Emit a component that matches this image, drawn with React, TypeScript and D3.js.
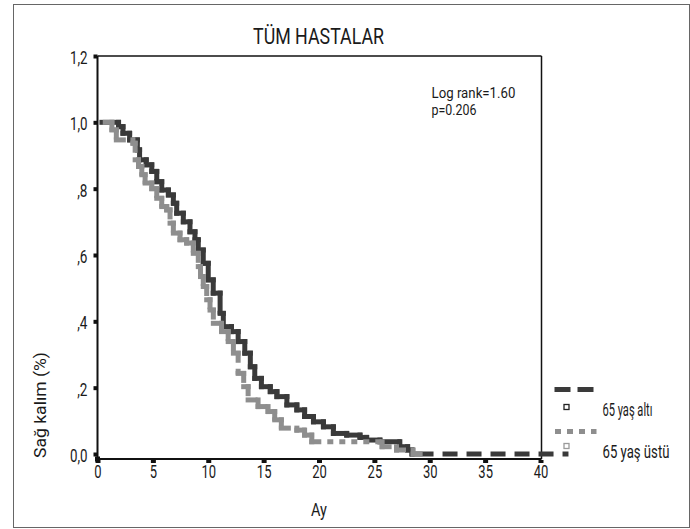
import React, { useEffect, useRef } from "react";
import * as d3 from "d3";

// Kaplan-Meier readings (months, survival)
const monthsUnder65 = [0.4, 1.9, 2.3, 2.9, 3.6, 3.8, 4.4, 4.9, 5.35, 5.8, 6.4, 6.85, 7.15, 7.75, 8.35, 8.8, 9.1, 9.55, 10.0, 10.45, 11.07, 11.36, 12.1, 12.7, 13.3, 13.8, 14.2, 14.8, 15.6, 16.2, 17.1, 18.0, 18.7, 19.5, 20.4, 21.3, 22.5, 23.7, 24.3, 25.5, 27.3, 28.0, 28.4];
const survivalUnder65 = [1.0, 0.987, 0.967, 0.947, 0.917, 0.887, 0.872, 0.852, 0.821, 0.796, 0.781, 0.756, 0.726, 0.7, 0.67, 0.646, 0.615, 0.575, 0.525, 0.485, 0.424, 0.384, 0.369, 0.339, 0.304, 0.263, 0.228, 0.203, 0.188, 0.173, 0.148, 0.133, 0.113, 0.097, 0.082, 0.062, 0.057, 0.05, 0.042, 0.037, 0.022, 0.012, 0];
const lastMonthUnder65 = 42.3;

const monthsOver65 = [0.7, 1.3, 1.7, 3.2, 3.4, 3.7, 4.0, 4.3, 4.9, 5.35, 5.8, 6.25, 6.55, 6.85, 7.45, 8.05, 8.65, 9.1, 9.3, 9.55, 9.86, 10.16, 10.46, 11.2, 11.8, 12.27, 12.7, 13.2, 13.6, 14.5, 15.4, 16.0, 16.6, 18.0, 18.7, 19.35, 25.7, 27.0, 28.5];
const survivalOver65 = [1.0, 0.977, 0.947, 0.937, 0.887, 0.867, 0.842, 0.817, 0.8, 0.771, 0.746, 0.736, 0.696, 0.666, 0.646, 0.636, 0.605, 0.565, 0.535, 0.505, 0.465, 0.434, 0.394, 0.369, 0.339, 0.304, 0.243, 0.203, 0.163, 0.143, 0.128, 0.103, 0.078, 0.072, 0.057, 0.037, 0.022, 0.012, 0];
const lastMonthOver65 = 29.3;

const xTicks = [0, 5, 10, 15, 20, 25, 30, 35, 40];
const yTicks = [0, 0.2, 0.4, 0.6, 0.8, 1.0, 1.2];
const yTickLabels = ["0,0", ",2", ",4", ",6", ",8", "1,0", "1,2"];

const seriesNames = ["65 yaş altı", "65 yaş üstü"];
const FONT = "Roboto, 'Liberation Sans', sans-serif";

// dash patterns (square caps add 5px to every dash): a longer first dash,
// then the repeating pattern, restarted on every step piece like SPSS does
const longDash = [19, 14].concat(...Array(12).fill([10, 14]));
const dotted = [7, 11].concat(...Array(24).fill([1, 11]));

// each step piece is its own segment
function stepSegments(months, surv, lastMonth) {
  const segs = [];
  for (let i = 1; i < months.length; i++) {
    segs.push([months[i - 1], surv[i - 1], months[i], surv[i - 1]]);
    segs.push([months[i], surv[i - 1], months[i], surv[i]]);
  }
  const n = months.length - 1;
  segs.push([months[n], surv[n], lastMonth, surv[n]]);
  return segs;
}

// rough width of a condensed label
const labelWidth = (s) =>
  s.split("").reduce((w, c) => w + (c === "," || c === "." ? 3 : 7.3), 0);

// squeeze a text horizontally to the target width (condensed look)
function squeeze(node, target, extra = "") {
  const t = d3.select(node);
  const nat = node.getComputedTextLength();
  const k = nat > 0 ? target / nat : 1;
  const tx = +t.attr("x") || 0;
  const ty = +t.attr("y") || 0;
  t.attr("x", 0).attr("y", 0)
    .attr("transform", `translate(${tx},${ty}) ${extra} scale(${k},1)`);
}

const App = () => {
  const svgRef = useRef();

  useEffect(() => {
    const width = 690;
    const height = 529;

    const svg = d3.select(svgRef.current).attr("width", width).attr("height", height);
    svg.selectAll("*").remove();

    const x = d3.scaleLinear().domain([0, 40]).range([97.5, 540.5]);
    const y = d3.scaleLinear().domain([0, 1.2]).range([454, 56]);
    const axisY = 459;

    // outer frame
    svg.append("rect")
      .attr("x", 13.5).attr("y", 4.5)
      .attr("width", 676).attr("height", 523)
      .attr("fill", "white").attr("stroke", "#666").attr("stroke-width", 1);

    // plot frame
    svg.append("line")
      .attr("x1", x(0)).attr("x2", 541.5).attr("y1", y(1.2)).attr("y2", y(1.2))
      .attr("stroke", "#111").attr("stroke-width", 1.5);
    svg.append("line")
      .attr("x1", 541.5).attr("x2", 541.5).attr("y1", y(1.2)).attr("y2", axisY)
      .attr("stroke", "#111").attr("stroke-width", 1.5);
    svg.append("line")
      .attr("x1", x(0)).attr("x2", x(0)).attr("y1", y(1.2)).attr("y2", axisY)
      .attr("stroke", "#111").attr("stroke-width", 2);
    svg.append("line")
      .attr("x1", x(0)).attr("x2", 541.5).attr("y1", axisY).attr("y2", axisY)
      .attr("stroke", "#111").attr("stroke-width", 2);

    // y axis
    const gy = svg.append("g")
      .attr("transform", `translate(${x(0)},0)`)
      .call(d3.axisLeft(y).tickValues(yTicks).tickSize(0).tickPadding(10)
        .tickFormat((d, i) => yTickLabels[i]));
    gy.select(".domain").remove();
    gy.selectAll(".tick").append("rect")
      .attr("x", -4).attr("y", -2).attr("width", 4).attr("height", 4).attr("fill", "#111");
    gy.selectAll("text")
      .attr("dy", "0.42em")
      .attr("font-family", FONT).attr("font-size", 18).attr("fill", "#1a1a1a")
      .each(function (d, i) { squeeze(this, labelWidth(yTickLabels[i])); });

    // x axis
    const gx = svg.append("g")
      .attr("transform", `translate(0,${axisY})`)
      .call(d3.axisBottom(x).tickValues(xTicks).tickSize(0).tickPadding(6));
    gx.select(".domain").remove();
    gx.selectAll(".tick").append("rect")
      .attr("x", -2.5).attr("y", 1).attr("width", 5).attr("height", 3).attr("fill", "#111");
    gx.append("rect")
      .attr("x", x(0) - 2.5).attr("y", -2.5).attr("width", 5).attr("height", 5).attr("fill", "#111");
    gx.selectAll("text")
      .attr("font-family", FONT).attr("font-size", 18).attr("fill", "#1a1a1a")
      .each(function (d) { squeeze(this, labelWidth(String(d))); });

    // curves
    const series = [
      { segs: stepSegments(monthsUnder65, survivalUnder65, lastMonthUnder65), color: "#3a3a3a", dash: longDash.join(",") },
      { segs: stepSegments(monthsOver65, survivalOver65, lastMonthOver65), color: "#8e8e8e", dash: dotted.join(",") },
    ];
    series.forEach((s) => {
      svg.append("g")
        .selectAll("line")
        .data(s.segs)
        .enter()
        .append("line")
        .attr("x1", (d) => x(d[0])).attr("y1", (d) => y(d[1]))
        .attr("x2", (d) => x(d[2])).attr("y2", (d) => y(d[3]))
        .attr("stroke", s.color)
        .attr("stroke-width", 5)
        .attr("stroke-linecap", "square")
        .attr("stroke-dasharray", s.dash);
    });

    const addText = (txt, tx, ty, size, len, anchor = "start", extra = "") => {
      const t = svg.append("text")
        .attr("x", tx).attr("y", ty)
        .attr("font-family", FONT).attr("font-size", size)
        .attr("fill", "#1a1a1a").attr("text-anchor", anchor)
        .text(txt);
      squeeze(t.node(), len, extra);
      return t;
    };

    // titles and annotation
    addText("TÜM HASTALAR", 318.5, 44, 22, 131, "middle");
    addText("Log rank=1.60", 431.5, 98, 15.5, 84);
    addText("p=0.206", 431.5, 115, 15.5, 45);
    addText("Ay", 319, 516, 19, 16, "middle");
    addText("Sağ kalım (%)", 46, 405, 17, 106, "middle", "rotate(-90)");

    // legend
    const legend = svg.append("g");
    legend.append("line")
      .attr("x1", 557).attr("x2", 592).attr("y1", 389.5).attr("y2", 389.5)
      .attr("stroke", "#3a3a3a").attr("stroke-width", 5)
      .attr("stroke-linecap", "square").attr("stroke-dasharray", "11,12");
    legend.append("rect")
      .attr("x", 564).attr("y", 404.5).attr("width", 5).attr("height", 5)
      .attr("fill", "white").attr("stroke", "#222").attr("stroke-width", 1.3);
    legend.append("line")
      .attr("x1", 557.5).attr("x2", 594).attr("y1", 431.5).attr("y2", 431.5)
      .attr("stroke", "#8e8e8e").attr("stroke-width", 5)
      .attr("stroke-linecap", "square").attr("stroke-dasharray", "1,11");
    legend.append("rect")
      .attr("x", 564).attr("y", 443.5).attr("width", 5).attr("height", 5)
      .attr("fill", "white").attr("stroke", "#9a9a9a").attr("stroke-width", 1.3);
    addText(seriesNames[0], 602.5, 415.5, 18, 50);
    addText(seriesNames[1], 602.5, 458, 18, 67);
  }, []);

  return (
    <div style={{ position: "fixed", left: 0, top: 0, background: "white" }}>
      <svg ref={svgRef}></svg>
    </div>
  );
};

export default App;
